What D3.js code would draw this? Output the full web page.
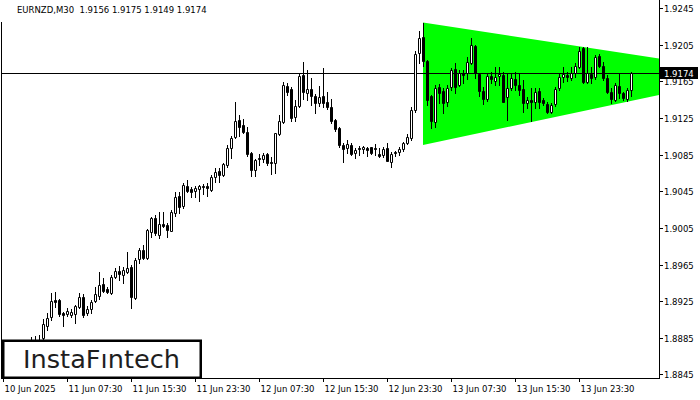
<!DOCTYPE html>
<html><head><meta charset="utf-8">
<script src="https://cdn.jsdelivr.net/npm/d3@7/dist/d3.min.js"></script>
<style>
body{margin:0;background:#fff}
svg{display:block}
text{font-family:"DejaVu Sans",sans-serif}
</style>
</head><body>
<svg id="chart" width="700" height="400"></svg>
<script>
const symbolLabel = "EURNZD,M30";
const headerOHLC = ["1.9156","1.9175","1.9149","1.9174"];
const lastPrice = 1.9174;

const opens = [1.8862,1.8857,1.8861,1.8868,1.8864,1.8874,1.8871,1.8880,1.8883,1.8879,
1.88844,1.88978,1.89080,1.89262,1.89262,1.8912,1.89109,1.89098,1.89109,1.89189,
1.89298,1.8912,1.8916,1.89254,1.89306,1.89437,1.8938,1.89336,1.89517,1.89583,
1.89536,1.89572,1.89627,1.89284,1.89707,1.89809,1.89718,1.90009,1.90155,1.89973,
1.90093,1.90082,1.9002,1.9021,1.90399,1.9029,1.90508,1.90472,1.90457,1.90472,
1.90508,1.90508,1.90465,1.90603,1.90672,1.90628,1.90738,1.90927,1.9104,1.9123,
1.91175,1.91102,1.90866,1.90683,1.90814,1.90803,1.90858,1.90774,1.90756,1.91077,
1.91211,1.91601,1.91565,1.91266,1.91383,1.91721,1.91528,1.91565,1.91492,1.91412,
1.91492,1.9143,1.91375,1.9123,1.91139,1.90956,1.9092,1.90956,1.90866,1.9092,
1.90909,1.9092,1.90931,1.90927,1.90858,1.90847,1.9092,1.90774,1.90883,1.90883,
1.90909,1.90982,1.91029,1.91339,1.91958,1.92133,1.91878,1.91492,1.91211,1.91587,
1.9155,1.9143,1.91587,1.91784,1.91612,1.9174,1.9174,1.91856,1.92038,1.91732,
1.9155,1.91456,1.9171,1.91659,1.9171,1.91721,1.91478,1.91576,1.91674,1.91612,
1.91565,1.91419,1.91448,1.9143,1.9155,1.91448,1.91404,1.9132,1.91404,1.91576,
1.91696,1.91721,1.91685,1.9174,1.91806,1.92013,1.91648,1.91732,1.91696,1.91929,
1.9182,1.91685,1.91539,1.91448,1.91601,1.91528,1.91456,1.9156];

const highs = [1.8866,1.8864,1.8870,1.8873,1.8876,1.8879,1.8880,1.8886,1.8887,1.8888,
1.89052,1.8912,1.89339,1.8935,1.89273,1.89135,1.89175,1.89164,1.89207,1.89339,
1.8933,1.89196,1.89262,1.89408,1.89568,1.895,1.89408,1.89536,1.89609,1.89634,
1.89627,1.89791,1.89645,1.89721,1.89828,1.89863,1.90038,1.90173,1.90192,1.90227,
1.90227,1.90104,1.90246,1.90446,1.90446,1.90545,1.90574,1.905,1.90508,1.90519,
1.90527,1.90538,1.90628,1.90702,1.90702,1.90763,1.90956,1.91055,1.9143,1.91284,
1.91237,1.91156,1.90883,1.908,1.90858,1.90866,1.90872,1.90828,1.91091,1.91284,
1.91648,1.9163,1.91587,1.91448,1.91746,1.91867,1.91776,1.91685,1.91514,1.91601,
1.91795,1.91539,1.91456,1.9124,1.91153,1.90975,1.91011,1.90978,1.9092,1.90946,
1.90946,1.90938,1.90938,1.90967,1.90927,1.90938,1.90982,1.90883,1.90894,1.90931,
1.90993,1.91077,1.91368,1.91987,1.92205,1.92293,1.91885,1.91503,1.91612,1.91623,
1.91576,1.91612,1.91795,1.91849,1.91776,1.91776,1.91915,1.92122,1.92044,1.9174,
1.91593,1.9174,1.91757,1.91812,1.91812,1.91754,1.91746,1.9174,1.91757,1.9174,
1.91667,1.91478,1.91576,1.91576,1.91576,1.9147,1.9143,1.91412,1.91593,1.9174,
1.91812,1.91757,1.91812,1.91849,1.92031,1.92031,1.92031,1.91812,1.9194,1.91951,
1.91867,1.91721,1.91576,1.9163,1.9174,1.91539,1.91576,1.9175];

const lows = [1.8852,1.8850,1.8858,1.8861,1.8862,1.8868,1.8866,1.8874,1.8876,1.8872,
1.88825,1.88934,1.89044,1.89189,1.8909,1.88978,1.8909,1.8908,1.89011,1.89175,
1.8908,1.89098,1.8912,1.8924,1.89273,1.8935,1.89336,1.89328,1.895,1.89481,
1.89448,1.89558,1.89175,1.89268,1.89663,1.8971,1.89705,1.89948,1.89973,1.89943,
1.90057,1.89954,1.90011,1.9018,1.90217,1.90265,1.90446,1.90391,1.90388,1.90348,
1.90418,1.90399,1.90457,1.90555,1.90555,1.90618,1.90719,1.90811,1.91029,1.91055,
1.91084,1.90836,1.90618,1.90618,1.90738,1.90774,1.90738,1.9064,1.90654,1.91066,
1.912,1.91503,1.91222,1.91222,1.91375,1.91459,1.91448,1.91393,1.91309,1.91383,
1.91372,1.9135,1.91197,1.91109,1.90931,1.90774,1.90866,1.90847,1.90811,1.90847,
1.90866,1.90836,1.9086,1.90847,1.90826,1.90828,1.90776,1.90719,1.90836,1.90847,
1.90894,1.90967,1.91008,1.9132,1.91852,1.9182,1.91393,1.91139,1.91156,1.91412,
1.91303,1.91383,1.91557,1.91528,1.91601,1.9163,1.91674,1.91842,1.91685,1.91492,
1.91404,1.91441,1.9163,1.91612,1.91612,1.91421,1.9123,1.91557,1.91557,1.91503,
1.9132,1.91357,1.91222,1.91357,1.91357,1.91393,1.91309,1.91309,1.91383,1.91557,
1.91648,1.91659,1.91667,1.91703,1.91795,1.9163,1.9163,1.9163,1.91674,1.91812,
1.91667,1.91521,1.91412,1.91441,1.91467,1.91448,1.91441,1.9149];

const closes = [1.8857,1.8861,1.8868,1.8864,1.8874,1.8871,1.8877,1.8883,1.8879,1.8881,
1.8900,1.89069,1.89254,1.8924,1.89109,1.8910,1.89142,1.89135,1.89196,1.89298,
1.89098,1.89164,1.89244,1.89328,1.89426,1.89364,1.89353,1.89517,1.89583,1.89547,
1.8959,1.89616,1.89298,1.89699,1.89809,1.89718,1.90027,1.90155,1.89991,1.90093,
1.90071,1.90027,1.90227,1.90385,1.90282,1.90519,1.90457,1.90446,1.90483,1.90508,
1.90494,1.90483,1.90603,1.90665,1.90632,1.90749,1.9092,1.91029,1.91219,1.91156,
1.91102,1.90858,1.90683,1.90792,1.90798,1.90847,1.90763,1.90756,1.91084,1.91222,
1.91612,1.91539,1.91248,1.91383,1.9171,1.91539,1.91565,1.91492,1.91419,1.91478,
1.91412,1.91375,1.91222,1.91128,1.90956,1.9091,1.90967,1.90858,1.90902,1.90909,
1.90931,1.90902,1.90866,1.90913,1.90836,1.90909,1.90785,1.90858,1.90866,1.90909,
1.90975,1.9104,1.91339,1.91951,1.92122,1.91878,1.91448,1.91222,1.91576,1.91528,
1.91419,1.91576,1.91776,1.91593,1.9174,1.91721,1.91867,1.92049,1.9174,1.9155,
1.91456,1.9171,1.91674,1.91696,1.91732,1.9143,1.91576,1.91685,1.91612,1.91557,
1.91419,1.91448,1.9143,1.91539,1.9143,1.91419,1.9132,1.91393,1.91565,1.91703,
1.91732,1.91696,1.91746,1.9182,1.91987,1.91648,1.91746,1.91685,1.91915,1.9182,
1.91685,1.91539,1.91456,1.91612,1.91521,1.91467,1.91557,1.9174];

const xTickLabels = ["10 Jun 2025","11 Jun 07:30","11 Jun 15:30","11 Jun 23:30","12 Jun 07:30",
  "12 Jun 15:30","12 Jun 23:30","13 Jun 07:30","13 Jun 15:30","13 Jun 23:30"];
const xTickIndex = [0,16,32,48,64,80,96,112,128,144];
const yTicks = [1.9245,1.9205,1.9165,1.9125,1.9085,1.9045,1.9005,1.8965,1.8925,1.8885,1.8845];

// symmetrical triangle pattern (bar index, price)
const triangleIndex = [105, 164];
const triangleUpper = [1.92295, 1.91901];
const triangleLower = [1.90956, 1.91502];

const logoText = "InstaF\u0131ntech";

// ---------- drawing ----------
const svg = d3.select("#chart");
const W = 700, H = 400;
const plotRight = 659, plotBottom = 378;

const x = d3.scaleLinear().domain([0, 164]).range([3, 659]);
const y = d3.scaleLinear().domain([1.8845, 1.9245]).range([374.3, 8.3]);

svg.append("rect").attr("width", W).attr("height", H).attr("fill", "#fff");

svg.append("defs").append("clipPath").attr("id", "plotClip")
  .append("rect").attr("x", 2).attr("y", 0).attr("width", plotRight - 2).attr("height", plotBottom);

const plot = svg.append("g").attr("clip-path", "url(#plotClip)");

// triangle
const triPts = [
  [x(triangleIndex[0]), y(triangleUpper[0])],
  [x(triangleIndex[1]), y(triangleUpper[1])],
  [x(triangleIndex[1]), y(triangleLower[1])],
  [x(triangleIndex[0]), y(triangleLower[0])]
];
plot.append("path").attr("d", d3.line()(triPts) + "Z").attr("fill", "#00ff00");

// current price line
plot.append("line")
  .attr("x1", 2).attr("x2", plotRight)
  .attr("y1", Math.round(y(lastPrice)) + 0.5).attr("y2", Math.round(y(lastPrice)) + 0.5)
  .attr("stroke", "#000").attr("stroke-width", 1);

// candles
const candles = opens.map((o, i) => ({i, o, h: highs[i], l: lows[i], c: closes[i]}));
const cg = plot.append("g");
candles.forEach(d => {
  const cx = Math.round(x(d.i));
  const yh = Math.round(y(d.h)), yl = Math.round(y(d.l));
  const top = Math.round(y(Math.max(d.o, d.c)));
  const bot = Math.round(y(Math.min(d.o, d.c)));
  cg.append("line").attr("x1", cx + 0.5).attr("x2", cx + 0.5)
    .attr("y1", yh).attr("y2", yl + 1).attr("stroke", "#000").attr("stroke-width", 1);
  const bull = d.c >= d.o;
  const hgt = Math.max(bot - top, 0);
  cg.append("path")
    .attr("d", `M${cx - 0.5},${top + 0.5}h2v${hgt}h-2Z`)
    .attr("fill", bull ? "#fff" : "#000")
    .attr("stroke", "#000").attr("stroke-width", 1);
});

// frame
svg.append("line").attr("x1", 1.5).attr("x2", 1.5).attr("y1", 22).attr("y2", plotBottom)
  .attr("stroke", "#000");
svg.append("line").attr("x1", plotRight + 0.5).attr("x2", plotRight + 0.5).attr("y1", 0).attr("y2", plotBottom + 0.5)
  .attr("stroke", "#000");
svg.append("line").attr("x1", 1).attr("x2", plotRight + 1).attr("y1", plotBottom + 0.5).attr("y2", plotBottom + 0.5)
  .attr("stroke", "#000");

// y axis
const yAxisG = svg.append("g");
yTicks.forEach(t => {
  const yy = Math.round(y(t)) + 0.5;
  yAxisG.append("line").attr("x1", plotRight).attr("x2", plotRight + 4)
    .attr("y1", yy).attr("y2", yy).attr("stroke", "#000");
  yAxisG.append("text").attr("x", 664).attr("y", yy + 3)
    .attr("font-size", 8.5).attr("fill", "#000").text(d3.format(".4f")(t));
});

// x axis
const xAxisG = svg.append("g");
xTickIndex.forEach((ti, k) => {
  const xx = Math.round(x(ti)) + 0.5;
  xAxisG.append("line").attr("x1", xx).attr("x2", xx)
    .attr("y1", plotBottom).attr("y2", plotBottom + 4).attr("stroke", "#000");
  xAxisG.append("text").attr("x", xx + 1).attr("y", 392)
    .attr("font-size", 8.5).attr("fill", "#000").text(xTickLabels[k]);
});

// price label
const py = Math.round(y(lastPrice));
svg.append("rect").attr("x", 660).attr("y", py - 6).attr("width", 38).attr("height", 12).attr("fill", "#000");
svg.append("text").attr("x", 664).attr("y", py + 3.5).attr("font-size", 8.5)
  .attr("fill", "#fff").text(d3.format(".4f")(lastPrice));

// title
svg.append("text").attr("x", 17).attr("y", 12.5).attr("font-size", 8.5).attr("fill", "#000")
  .attr("xml:space", "preserve").style("white-space", "pre")
  .text(symbolLabel + "  " + headerOHLC.join(" "));

// logo
svg.append("rect").attr("x", 3.25).attr("y", 340.75).attr("width", 197.5).attr("height", 37)
  .attr("fill", "#fff").attr("stroke", "#000").attr("stroke-width", 2.5);
svg.append("text").attr("x", 23).attr("y", 367.5)
  .attr("font-family", "Lato, 'Noto Sans', sans-serif").attr("font-size", 24).attr("font-weight", 500)
  .attr("fill", "#1e1e1e").attr("textLength", 157).attr("lengthAdjust", "spacingAndGlyphs")
  .text(logoText);
</script>
</body></html>
